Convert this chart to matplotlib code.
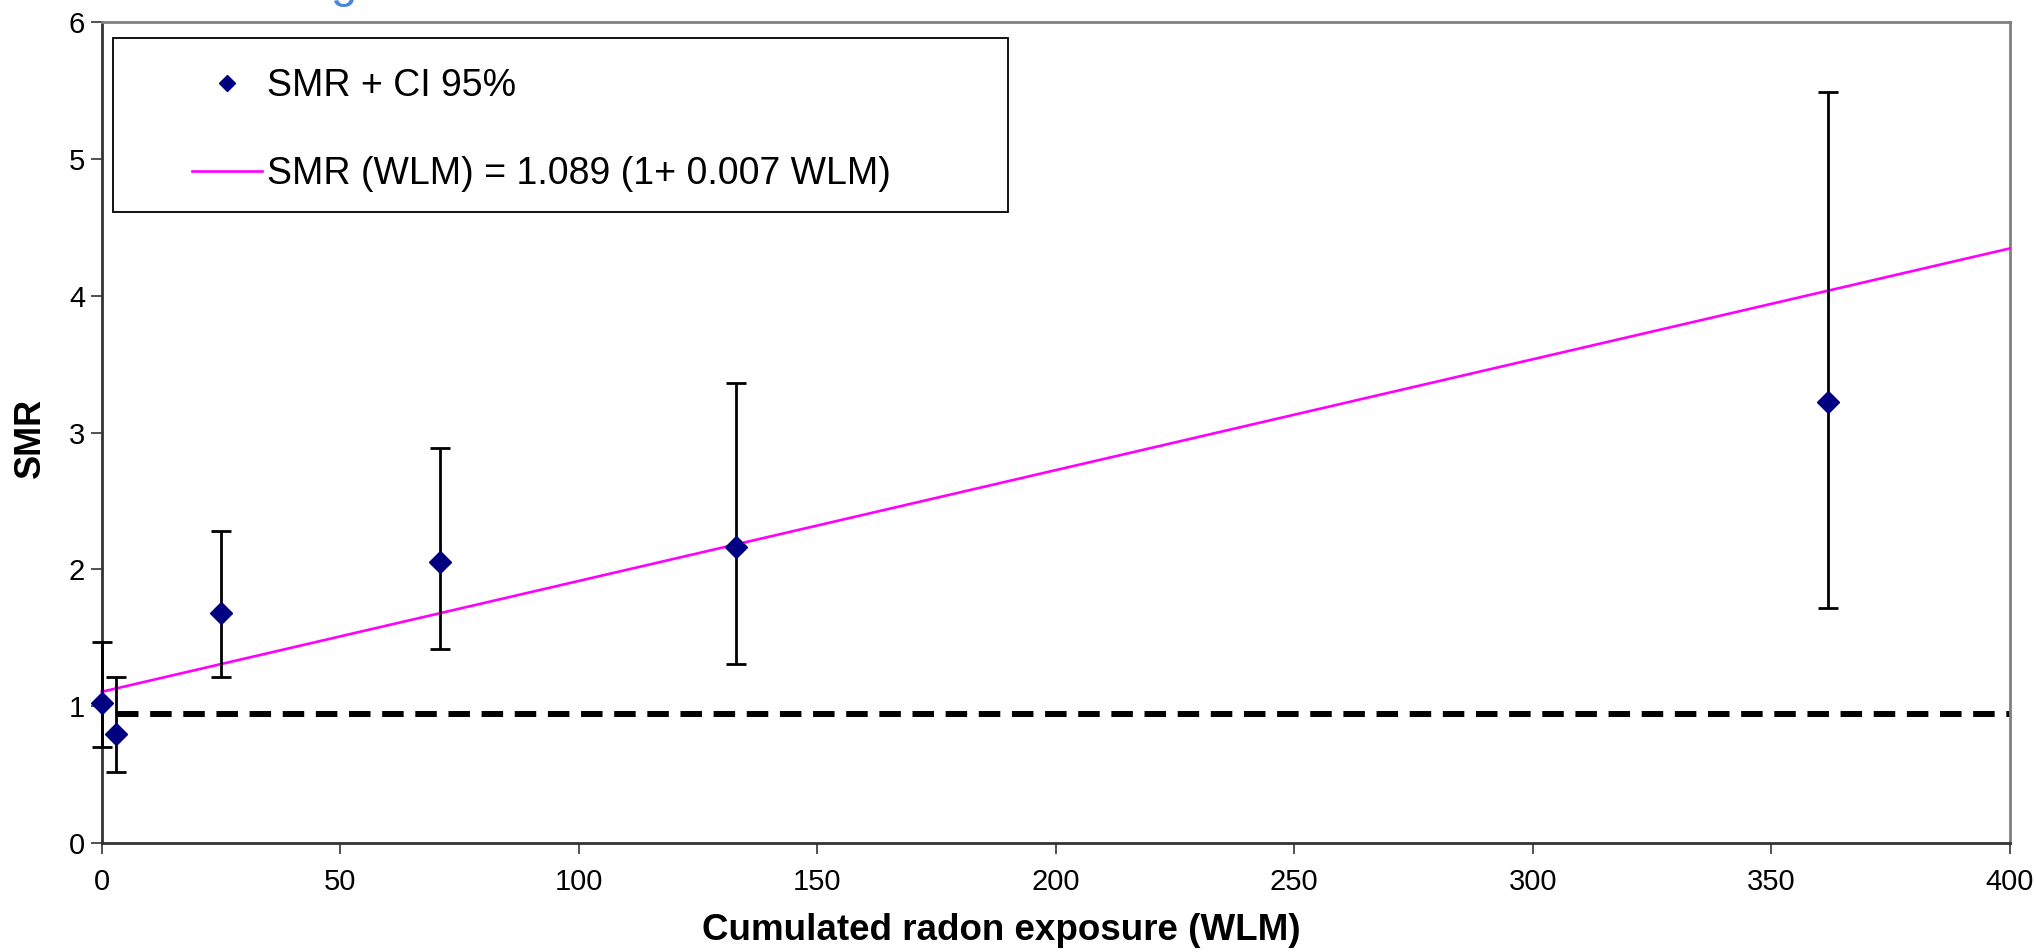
import matplotlib
matplotlib.use("Agg")
import matplotlib.pyplot as plt
from matplotlib.patches import Rectangle
import numpy as np

# ---- data ----
wlm = [0, 3, 25, 71, 133, 362]
smr = [1.02, 0.80, 1.68, 2.05, 2.16, 3.22]
ci_low = [0.70, 0.52, 1.21, 1.42, 1.31, 1.72]
ci_high = [1.47, 1.21, 2.28, 2.89, 3.36, 5.49]

fit_intercept = 1.105
fit_slope = 0.0081
fit_range = [0, 400]

reference_level = 0.945
reference_range = [3.2, 400]

x_ticks = [0, 50, 100, 150, 200, 250, 300, 350, 400]
y_ticks = [0, 1, 2, 3, 4, 5, 6]

label_points = "SMR + CI 95%"
label_fit = "SMR (WLM) = 1.089 (1+ 0.007 WLM)"

plt.rcParams['font.family'] = ['Liberation Sans', 'DejaVu Sans']

W, H = 2036, 952
fig = plt.figure(figsize=(W / 100, H / 100), dpi=100)
ax = fig.add_axes([101.7 / W, 1 - 843 / H, 1908 / W, 821 / H])

ax.set_xlim(0, 400)
ax.set_ylim(0, 6)

# dashed reference line
ax.plot(reference_range, [reference_level, reference_level], color='black',
        lw=4.3, dashes=(3.6, 1.95), zorder=2)

# fitted line
fx = np.array(fit_range, dtype=float)
fit_line, = ax.plot(fx, fit_intercept + fit_slope * fx, color='#FF00FF', lw=1.9,
                    zorder=3, label=label_fit, clip_on=False)

# error bars
smr_a = np.array(smr)
yerr = np.vstack([smr_a - np.array(ci_low), np.array(ci_high) - smr_a])
ax.errorbar(wlm, smr, yerr=yerr, fmt='none', ecolor='black', elinewidth=2.0,
            capsize=7, capthick=2.0, zorder=4, clip_on=False)
pts, = ax.plot(wlm, smr, linestyle='none', marker='D', ms=11,
               color='#000080', zorder=5, clip_on=False, label=label_points)

# axes styling
for side in ['top', 'right']:
    ax.spines[side].set_color('#808080')
    ax.spines[side].set_linewidth(2)
for side in ['left', 'bottom']:
    ax.spines[side].set_color('#333333')
    ax.spines[side].set_linewidth(2)

ax.set_xticks(x_ticks)
ax.set_yticks(y_ticks)
ax.tick_params(axis='both', direction='out', length=8, width=1.2,
               color='#333333', labelsize=21)
ax.tick_params(axis='y', pad=4)
ax.tick_params(axis='x', pad=10)

ax.set_xlabel("Cumulated radon exposure (WLM)", fontsize=26.5, fontweight='bold',
              va='center')
ax.xaxis.set_label_coords((1001 - 101.7) / 1908, -(931 - 843) / 821)
ax.set_ylabel("SMR", fontsize=26, fontweight='bold', va='center')
ax.yaxis.set_label_coords((30 - 101.7) / 1908, 1 - (438 - 22) / 821)

# legend with a fixed box
box = Rectangle((113 / W, 1 - 212 / H), (1008 - 113) / W, (212 - 38) / H,
                transform=fig.transFigure, facecolor='white', edgecolor='black',
                lw=1.3, zorder=6, clip_on=False)
ax.add_patch(box)
leg = ax.legend(handles=[pts, fit_line], labels=[label_points, label_fit],
                loc='upper left',
                bbox_to_anchor=((192 - 101.7) / 1908, 1 - (68 - 22) / 821),
                frameon=False, fontsize=27, handlelength=1.87,
                handletextpad=0.12, labelspacing=1.40, borderpad=0,
                borderaxespad=0, markerscale=0.72)
leg.set_zorder(7)

# partially visible title fragment at the top
fig.text(344 / W, 1 - 7 / H, "g", color='#4A86D8', fontsize=34,
         ha='center', va='bottom')

fig.savefig("out.png", dpi=100)
